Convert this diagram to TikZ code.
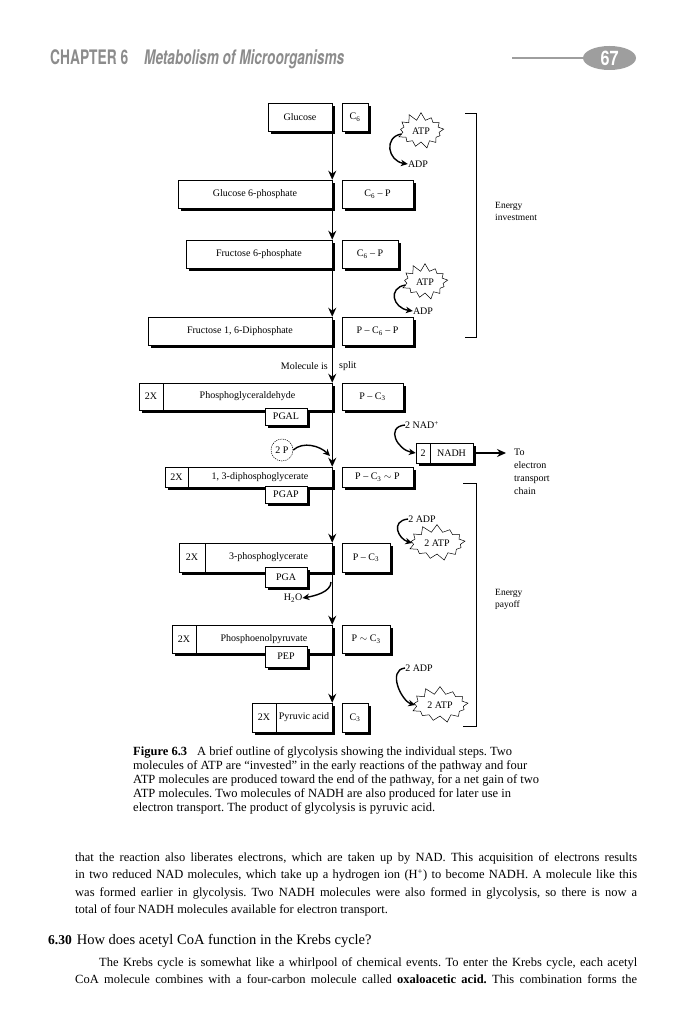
\documentclass[tikz,border=0pt]{standalone}
\usepackage{graphicx}
\usepackage{fontspec}
\setmainfont{Liberation Serif}
\newfontfamily\hdrfont{TeX Gyre Heros}
\usetikzlibrary{shapes.symbols,shadows,arrows.meta}
\definecolor{hdrgray}{gray}{0.55}
\definecolor{ovalgray}{gray}{0.62}
\tikzset{
  lbox/.style={draw, line width=0.5pt, fill=white, inner sep=0pt,
    font=\fontsize{10}{12}\selectfont,
    drop shadow={shadow xshift=3pt, shadow yshift=-3pt, fill=black, opacity=1}},
  lbl/.style={inner sep=0pt, font=\fontsize{10}{12}\selectfont},
  mainarr/.style={line width=1.4pt, -{Stealth[length=9pt,width=8pt]}},
  curvarr/.style={line width=1.4pt, -{Stealth[length=7pt,width=6.5pt]}},
  burst/.style={draw, line width=0.5pt, fill=white, starburst, starburst points=13,
    starburst point height=8pt, random starburst=30, inner xsep=4pt, inner ysep=4.5pt,
    font=\fontsize{10}{12}\selectfont},
  brack/.style={line width=0.7pt},
}
\begin{document}
\begin{tikzpicture}[x=1pt,y=-1pt]
\useasboundingbox (0,0) rectangle (683,1024);
\fill[white] (0,0) rectangle (683,1024);
% header
\node[anchor=base west, inner sep=0, text=hdrgray] (chap) at (50,65)
  {\resizebox{78pt}{\height}{\hdrfont\bfseries\fontsize{20}{22}\selectfont CHAPTER 6}};
\node[anchor=base west, inner sep=0, text=hdrgray] (meta) at (144,65)
  {\resizebox{200pt}{\height}{\hdrfont\bfseries\itshape\fontsize{20}{22}\selectfont Metabolism of Microorganisms}};
\draw[ovalgray, line width=2.2pt] (512,58) -- (586,58);
\fill[ovalgray] (609.5,58) ellipse [x radius=26.5, y radius=12];
\node[inner sep=0, text=white] (pg) at (609.5,58)
  {\resizebox{18pt}{\height}{\hdrfont\bfseries\fontsize{20}{22}\selectfont 67}};
% column 1 boxes
\node[lbox, minimum width=64pt, minimum height=28pt] (glu) at (300,117) {Glucose};
\node[lbox, minimum width=154pt, minimum height=28pt] (g6p) at (255,194) {Glucose 6-phosphate};
\node[lbox, minimum width=146pt, minimum height=28pt] (f6p) at (259,254) {Fructose 6-phosphate};
\node[lbox, minimum width=184pt, minimum height=28pt] (fdp) at (240,331) {Fructose 1, 6-Diphosphate};
\node[lbox, minimum width=24pt, minimum height=27pt] (xa) at (151,396.5) {2X};
\node[lbox, minimum width=169pt, minimum height=27pt] (pgald) at (247.5,396.5) {Phosphoglyceraldehyde};
\node[lbox, minimum width=42pt, minimum height=17pt] (pgal) at (286,416.5) {PGAL};
\node[lbox, minimum width=23pt, minimum height=20pt] (xb) at (176.5,477) {2X};
\node[lbox, minimum width=144pt, minimum height=20pt] (dpg) at (260,477) {1, 3-diphosphoglycerate};
\node[lbox, minimum width=42pt, minimum height=17pt] (pgap) at (286,494.5) {PGAP};
\node[lbox, minimum width=26pt, minimum height=29pt] (xc) at (192,557.5) {2X};
\node[lbox, minimum width=127pt, minimum height=29pt] (tpg) at (268.5,557.5) {3-phosphoglycerate};
\node[lbox, minimum width=42pt, minimum height=20pt] (pga) at (286,577) {PGA};
\node[lbox, minimum width=24pt, minimum height=28pt] (xd) at (184,639) {2X};
\node[lbox, minimum width=136pt, minimum height=28pt] (pep) at (264,639) {Phosphoenolpyruvate};
\node[lbox, minimum width=42pt, minimum height=21pt] (pepab) at (286,656.5) {PEP};
\node[lbox, minimum width=24pt, minimum height=29pt] (xe) at (264,717.5) {2X};
\node[lbox, minimum width=56pt, minimum height=29pt] (pyr) at (304,717.5) {Pyruvic acid};
% column 2 boxes
\node[lbox, minimum width=26pt, minimum height=28pt] (ca) at (355,117) {C\textsubscript{6}};
\node[lbox, minimum width=71pt, minimum height=28pt] (cb) at (377.5,194) {C\textsubscript{6} – P};
\node[lbox, minimum width=56pt, minimum height=28pt] (cc) at (370,254) {C\textsubscript{6} – P};
\node[lbox, minimum width=71pt, minimum height=28pt] (cd) at (377.5,331) {P – C\textsubscript{6} – P};
\node[lbox, minimum width=61pt, minimum height=27pt] (ce) at (372.5,396.5) {P – C\textsubscript{3}};
\node[lbox, minimum width=71pt, minimum height=20pt] (cf) at (377.5,477) {P – C\textsubscript{3} $\sim$ P};
\node[lbox, minimum width=48pt, minimum height=29pt] (cg) at (366,557.5) {P – C\textsubscript{3}};
\node[lbox, minimum width=48pt, minimum height=28pt] (ch) at (366,639) {P $\sim$ C\textsubscript{3}};
\node[lbox, minimum width=26pt, minimum height=29pt] (ci) at (355,717.5) {C\textsubscript{3}};
% main arrows
\draw[mainarr] (glu.south east) -- (g6p.north east);
\draw[mainarr] (g6p.south east) -- (f6p.north east);
\draw[mainarr] (f6p.south east) -- (fdp.north east);
\draw[mainarr] (fdp.south east) -- (pgald.north east);
\draw[mainarr] (pgald.south east) -- (dpg.north east);
\draw[mainarr] (dpg.south east) -- (tpg.north east);
\draw[mainarr] (tpg.south east) -- (pep.north east);
\draw[mainarr] (pep.south east) -- (pyr.north east);
\node[lbl, anchor=east] (molis) at (328,366) {Molecule is};
\node[lbl, anchor=west] (split) at (339,366) {split};
% ATP / ADP side reactions
\node[burst] (atpa) at (421,131) {ATP};
\node[lbl] (adpa) at (418,164) {ADP};
\draw[curvarr] ([yshift=-3pt]atpa.west) .. controls +(-18,3) and +(-20,-3) .. (adpa.west);
\node[burst] (atpb) at (425,282) {ATP};
\node[lbl] (adpb) at (423,311) {ADP};
\draw[curvarr] ([yshift=-3pt]atpb.west) .. controls +(-18,3) and +(-20,-3) .. (adpb.west);
\node[lbl] (nad) at (422,425) {2 NAD\textsuperscript{+}};
\node[lbox, minimum width=14pt, minimum height=20pt] (nadtwo) at (423,453) {2};
\node[lbox, minimum width=43pt, minimum height=20pt] (nadh) at (451.5,453) {NADH};
\draw[curvarr] (nad.west) .. controls +(-20,2) and +(-18,-3) .. (nadtwo.west);
\coordinate (etcpt) at (506,453);
\draw[mainarr] ([xshift=3pt]nadh.east) -- (etcpt);
\node[lbl, anchor=north west, align=left, font=\fontsize{10}{12.8}\selectfont] (etc) at (514,449) {To\\electron\\transport\\chain};
\node[draw, circle, dash pattern=on 1.2pt off 1pt, line width=0.5pt, minimum size=22pt, inner sep=0pt, font=\fontsize{10}{12}\selectfont] (twop) at (282,450) {2 P};
\coordinate (joinp) at (330,456);
\draw[curvarr] (twop.east) .. controls +(10,-9) and +(-10,-10) .. (joinp);
\node[lbl] (adpc) at (422,519) {2 ADP};
\node[burst] (atpc) at (437,543) {2 ATP};
\draw[curvarr] (adpc.west) .. controls +(-18,2) and +(-14,-4) .. (atpc.west);
\node[lbl] (h2o) at (293,598) {H\textsubscript{2}O};
\coordinate (joinh) at (331,582);
\draw[curvarr] (joinh) .. controls +(0,10) and +(12,-2) .. (h2o.east);
\node[lbl] (adpd) at (419,668) {2 ADP};
\node[burst] (atpd) at (440,705) {2 ATP};
\draw[curvarr] (adpd.west) .. controls +(-18,2) and +(-14,-4) .. (atpd.west);
% brackets
\draw[brack] (465,113) -- (476,113) -- (476,337) -- (465,337);
\draw[brack] (463,483) -- (476,483) -- (476,726) -- (463,726);
\node[lbl, anchor=west, align=left, font=\fontsize{9.5}{12}\selectfont] (einv) at (495,211) {Energy\\investment};
\node[lbl, anchor=west, align=left, font=\fontsize{9.5}{12}\selectfont] (epay) at (495,599.5) {Energy\\payoff};
% caption
\node[anchor=north west, inner sep=0pt, align=left, font=\fontsize{12.5}{14.2}\selectfont\frenchspacing] (cap) at (133,746)
{\textbf{Figure 6.3}\hspace{10pt}A brief outline of glycolysis showing the individual steps. Two\\
molecules of ATP are “invested” in the early reactions of the pathway and four\\
ATP molecules are produced toward the end of the pathway, for a net gain of two\\
ATP molecules. Two molecules of NADH are also produced for later use in\\
electron transport. The product of glycolysis is pyruvic acid.};
% body text
\node[anchor=north west, inner sep=0pt] (body) at (75,852)
{\begin{minipage}{562pt}\fontsize{12.5}{17.5}\selectfont\frenchspacing\setlength{\parindent}{0pt}%
that the reaction also liberates electrons, which are taken up by NAD. This acquisition of electrons results\linebreak
in two reduced NAD molecules, which take up a hydrogen ion (H\textsuperscript{+}) to become NADH. A molecule like this\linebreak
was formed earlier in glycolysis. Two NADH molecules were also formed in glycolysis, so there is now a\linebreak
total of four NADH molecules available for electron transport.\par
\end{minipage}};
\node[anchor=base west, inner sep=0pt] (head) at (48,944)
{{\fontsize{13.5}{16}\selectfont\bfseries 6.30}\enspace{\fontsize{14.5}{17}\selectfont How does acetyl CoA function in the Krebs cycle?}};
\node[anchor=north west, inner sep=0pt] (krebs) at (75,957)
{\begin{minipage}{562pt}\fontsize{12.5}{17.5}\selectfont\frenchspacing\setlength{\parindent}{24pt}\setlength{\parfillskip}{0pt}%
The Krebs cycle is somewhat like a whirlpool of chemical events. To enter the Krebs cycle, each acetyl\linebreak
CoA molecule combines with a four-carbon molecule called \textbf{oxaloacetic acid.} This combination forms the\par
\end{minipage}};
\end{tikzpicture}
\end{document}
